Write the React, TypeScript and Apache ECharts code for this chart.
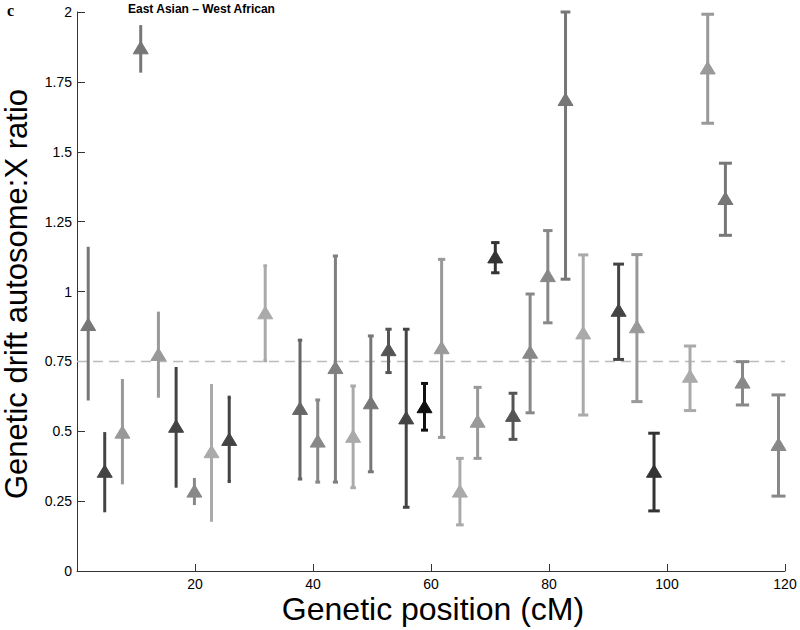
import React, { useEffect, useRef } from "react";
import * as echarts from "echarts";

// Genetic position (cM) of each window
const positions = [1.9, 4.7, 7.7, 10.8, 13.8, 16.8, 19.9, 22.8, 25.8, 31.9, 37.8, 40.8, 43.8, 46.8, 49.8, 52.8, 55.8, 58.9, 61.8, 64.9, 67.9, 70.9, 73.9, 76.8, 79.8, 82.8, 85.8, 91.8, 94.9, 97.8, 103.9, 106.9, 109.9, 112.8, 118.9];
// Autosome:X drift ratio estimate
const ratios = [0.88, 0.355, 0.495, 1.87, 0.773, 0.516, 0.284, 0.425, 0.469, 0.922, 0.58, 0.463, 0.726, 0.48, 0.6, 0.79, 0.546, 0.586, 0.797, 0.284, 0.534, 1.122, 0.555, 0.781, 1.055, 1.685, 0.85, 0.931, 0.872, 0.355, 0.695, 1.798, 1.331, 0.674, 0.451];
// Lower and upper bounds of the error bars
const lowers = [0.61, 0.21, 0.31, 1.783, 0.62, 0.298, 0.236, 0.176, 0.32, 0.752, 0.329, 0.318, 0.318, 0.298, 0.355, 0.71, 0.228, 0.504, 0.478, 0.165, 0.403, 1.067, 0.471, 0.566, 0.888, 1.044, 0.558, 0.757, 0.606, 0.215, 0.574, 1.602, 1.201, 0.594, 0.268];
const uppers = [1.16, 0.497, 0.687, 1.953, 0.928, 0.73, 0.333, 0.669, 0.622, 1.092, 0.826, 0.612, 1.127, 0.662, 0.841, 0.865, 0.865, 0.671, 1.115, 0.403, 0.657, 1.175, 0.636, 0.991, 1.218, 2.0, 1.131, 1.098, 1.132, 0.493, 0.805, 1.992, 1.459, 0.749, 0.63];
// Grey shade of each marker
const shades = ["#777", "#444", "#999", "#777", "#999", "#444", "#888", "#aaa", "#444", "#aaa", "#666", "#888", "#808080", "#aaa", "#777", "#555", "#444", "#111", "#999", "#aaa", "#999", "#333", "#555", "#888", "#888", "#777", "#aaa", "#444", "#999", "#333", "#aaa", "#999", "#777", "#888", "#888"];

const xTicks = { min: 0, max: 120, interval: 20 };
const yTicks = { min: 0, max: 2, interval: 0.25 };
const expectedRatio = 0.75;

const FONT = "'Liberation Sans', Arial, Helvetica, sans-serif";

export default function App() {
  const ref = useRef<HTMLDivElement>(null);

  useEffect(() => {
    if (!ref.current) return;
    const chart = echarts.init(ref.current, null, { renderer: "svg" });
    const data = positions.map((x, i) => [x, ratios[i], lowers[i], uppers[i], i]);

    chart.setOption({
      animation: false,
      backgroundColor: "#fff",
      grid: { left: 77, right: 15, top: 12, bottom: 59, containLabel: false },
      xAxis: {
        type: "value",
        min: xTicks.min,
        max: xTicks.max,
        interval: xTicks.interval,
        axisLine: { show: true, lineStyle: { color: "#333", width: 1 } },
        axisTick: { show: true, inside: true, length: 7, lineStyle: { color: "#333" } },
        axisLabel: {
          margin: 6,
          color: "#000",
          fontSize: 14,
          lineHeight: 14,
          fontFamily: FONT,
          formatter: (v: number) => (v === 0 ? "" : String(v)),
        },
        splitLine: { show: false },
      },
      yAxis: {
        type: "value",
        min: yTicks.min,
        max: yTicks.max,
        interval: yTicks.interval,
        axisLine: { show: true, lineStyle: { color: "#333", width: 1 } },
        axisTick: { show: true, inside: true, length: 8, lineStyle: { color: "#333" } },
        axisLabel: { margin: 5, color: "#000", fontSize: 14, fontFamily: FONT },
        splitLine: { show: false },
      },
      series: [
        {
          type: "line",
          data: [
            [xTicks.min, expectedRatio],
            [xTicks.max, expectedRatio],
          ],
          symbol: "none",
          silent: true,
          z: 1,
          lineStyle: { color: "#bbb", width: 1.5, type: [10, 6] },
        },
        {
          type: "custom",
          z: 2,
          data,
          encode: { x: 0, y: [1, 2, 3] },
          renderItem: (params: any, api: any) => {
            const x = api.value(0);
            const c = api.coord([x, api.value(1)]);
            const lo = api.coord([x, api.value(2)]);
            const hi = api.coord([x, api.value(3)]);
            const idx = api.value(4);
            const color = shades[idx];
            const half = api.size([0.01 * x, 0])[0];
            const ls = { stroke: color, lineWidth: 3, lineCap: "butt" };
            const children: any[] = [
              { type: "line", shape: { x1: c[0], y1: hi[1], x2: c[0], y2: lo[1] }, style: ls },
            ];
            if (half > 1.5) {
              children.push(
                { type: "line", shape: { x1: c[0] - half, y1: hi[1], x2: c[0] + half, y2: hi[1] }, style: ls },
                { type: "line", shape: { x1: c[0] - half, y1: lo[1], x2: c[0] + half, y2: lo[1] }, style: ls }
              );
            }
            children.push({
              type: "polygon",
              shape: {
                points: [
                  [c[0], c[1] - 7],
                  [c[0] - 7.5, c[1] + 5.5],
                  [c[0] + 7.5, c[1] + 5.5],
                ],
              },
              style: { fill: color, stroke: color, lineWidth: 1 },
            });
            return { type: "group", children };
          },
        },
      ],
      graphic: [
        {
          type: "text",
          left: 7,
          top: 2,
          style: { text: "c", font: "bold 16px 'Liberation Serif', 'DejaVu Serif', serif", fill: "#000" },
        },
        {
          type: "text",
          left: 128,
          top: 3,
          style: { text: "East Asian – West African", font: `bold 12px ${FONT}`, fill: "#000" },
        },
        {
          type: "text",
          x: 16,
          y: 294,
          rotation: Math.PI / 2,
          style: {
            text: "Genetic drift autosome:X ratio",
            font: `31px ${FONT}`,
            lineHeight: 28,
            fill: "#000",
            align: "center",
            verticalAlign: "middle",
          },
        },
        {
          type: "text",
          x: 433,
          y: 609,
          style: {
            text: "Genetic position (cM)",
            font: `32px ${FONT}`,
            lineHeight: 28,
            fill: "#000",
            align: "center",
            verticalAlign: "middle",
          },
        },
      ],
    });

    return () => chart.dispose();
  }, []);

  return (
    <div
      ref={ref}
      style={{ position: "absolute", left: 0, top: 0, width: 800, height: 630 }}
    />
  );
}
